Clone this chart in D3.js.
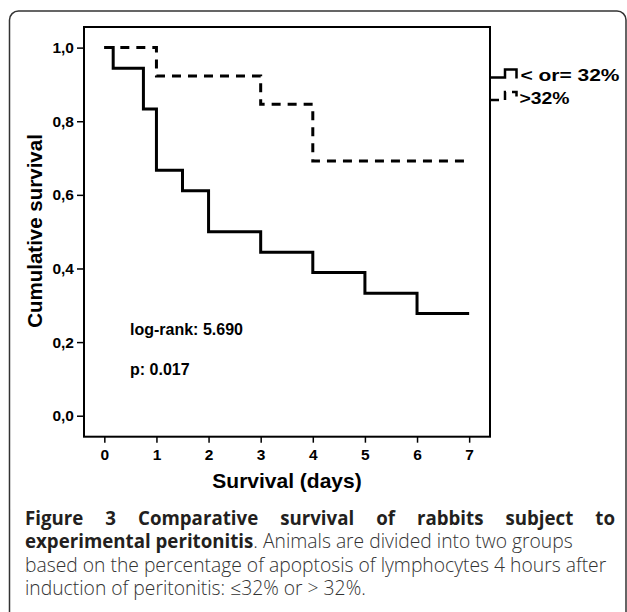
<!DOCTYPE html>
<html>
<head>
<meta charset="utf-8">
<script src="https://cdn.jsdelivr.net/npm/d3@7"></script>
<style>
body { margin: 0; background: #fff; }
svg text { font-family: "Liberation Sans", Arial, sans-serif; font-weight: bold; fill: #000; }
svg text.cap { font-family: "Open Sans", sans-serif; }
</style>
</head>
<body>
<div id="chart"></div>
<script>

// values

var solidDays = [0, 0.17, 0.75, 1, 1.5, 2, 3, 4, 5, 6, 7];
var solidSurv = [1, 0.944, 0.833, 0.667, 0.611, 0.5, 0.444, 0.389, 0.333, 0.278, 0.278];

var dashDays = [0, 1, 3, 4, 7];
var dashSurv = [1, 0.923, 0.846, 0.692, 0.692];

var xTicks = [0, 1, 2, 3, 4, 5, 6, 7];
var yTicks = [0, 0.2, 0.4, 0.6, 0.8, 1.0];

var legendLabels = ["< or= 32%", ">32%"];
var statLabels = ["log-rank: 5.690", "p: 0.017"];

var captionTitle = "Figure 3 Comparative survival of rabbits subject to";
var captionBold2 = "experimental peritonitis";
var captionRest2 = ". Animals are divided into two groups";
var captionLine3 = "based on the percentage of apoptosis of lymphocytes 4 hours after";
var captionLine4 = "induction of peritonitis: \u226432% or > 32%.";

// initial settings

var svgWidth = 627;
var svgHeight = 612;

var frame = { left: 84, right: 490, top: 27, bottom: 436.7 };

var svg = d3.select("#chart")
  .append("svg")
  .attr("width", svgWidth)
  .attr("height", svgHeight);

// outer rounded border of the figure panel
svg.append("rect")
  .attr("x", 9.5)
  .attr("y", 11)
  .attr("width", 616.5)
  .attr("height", 640)
  .attr("rx", 9)
  .attr("fill", "none")
  .attr("stroke", "#333")
  .attr("stroke-width", 1.5);

// scales

var x = d3.scaleLinear()
  .domain([-0.39, 7.4])
  .range([frame.left, frame.right]);

var y = d3.scaleLinear()
  .domain([-0.057, 1.056])
  .range([frame.bottom, frame.top]);

// axes

var left = d3.axisLeft(y)
  .tickValues(yTicks)
  .tickFormat(d => d3.format(".1f")(d).replace(".", ","))
  .tickSize(7)
  .tickPadding(3);

var bottom = d3.axisBottom(x)
  .tickValues(xTicks)
  .tickFormat(d3.format("d"))
  .tickSize(6)
  .tickPadding(6);

var yaxis = svg.append("g")
  .attr("transform", `translate(${frame.left}, 0)`)
  .call(left);

var xaxis = svg.append("g")
  .attr("transform", `translate(0, ${frame.bottom})`)
  .call(bottom);

[yaxis, xaxis].forEach(function (g) {
  g.select(".domain").remove();
  g.selectAll(".tick line").attr("stroke", "#000").attr("stroke-width", 1.5);
  g.selectAll(".tick text")
    .attr("fill", "#000")
    .style("font-size", "15.5px")
    .style("font-family", "'Liberation Sans', Arial, sans-serif")
    .style("font-weight", "bold");
});

// plot frame
svg.append("rect")
  .attr("x", frame.left)
  .attr("y", frame.top)
  .attr("width", frame.right - frame.left)
  .attr("height", frame.bottom - frame.top)
  .attr("fill", "none")
  .attr("stroke", "#000")
  .attr("stroke-width", 2);

// survival curves

var step = d3.line()
  .x(d => x(d[0]))
  .y(d => y(d[1]))
  .curve(d3.curveStepAfter);

var solidData = solidDays.map((d, i) => [d, solidSurv[i]]);
var dashData = dashDays.map((d, i) => [d, dashSurv[i]]);

svg.append("path")
  .datum(dashData)
  .attr("d", step)
  .attr("fill", "none")
  .attr("stroke", "#000")
  .attr("stroke-width", 3)
  .attr("stroke-dasharray", "9,7");

svg.append("path")
  .datum(solidData)
  .attr("d", step)
  .attr("fill", "none")
  .attr("stroke", "#000")
  .attr("stroke-width", 3);

// axis titles

svg.append("text")
  .attr("transform", "translate(41.5, 231) rotate(-90)")
  .attr("text-anchor", "middle")
  .style("font-size", "20.5px")
  .text("Cumulative survival");

svg.append("text")
  .attr("x", 287)
  .attr("y", 488)
  .attr("text-anchor", "middle")
  .style("font-size", "21px")
  .text("Survival (days)");

// stats text inside plot

svg.selectAll(".stat")
  .data(statLabels)
  .enter()
  .append("text")
  .attr("class", "stat")
  .attr("x", 130)
  .attr("y", (d, i) => 335 + i * 40)
  .style("font-size", "16px")
  .text(d => d);

// legend

var legend = svg.append("g");

legend.append("path")
  .attr("d", "M490,77.5 H505 V69.5 H516.5 V78.5")
  .attr("fill", "none")
  .attr("stroke", "#000")
  .attr("stroke-width", 2.5);

legend.append("path")
  .attr("d", "M490,100 H505 V92 H516.5 V100.5")
  .attr("fill", "none")
  .attr("stroke", "#000")
  .attr("stroke-width", 2.5)
  .attr("stroke-dasharray", "9,6");

var legendWidths = [99, 50];

legend.selectAll(".leg")
  .data(legendLabels)
  .enter()
  .append("text")
  .attr("class", "leg")
  .attr("x", (d, i) => i === 0 ? 520.5 : 519.5)
  .attr("y", (d, i) => 81 + i * 23)
  .attr("textLength", (d, i) => legendWidths[i])
  .attr("lengthAdjust", "spacingAndGlyphs")
  .style("font-size", "16px")
  .text(d => d);

// caption

var boldSize = 18.7;
var capSize = 19.3;
var capLeft = 25;
var capRight = 615;

// first line is justified word by word
var titleWords = captionTitle.split(" ");
var title = svg.append("text")
  .attr("class", "cap")
  .attr("y", 524.5)
  .style("font-size", boldSize + "px")
  .style("font-weight", "bold")
  .style("fill", "#231f20");

var spans = title.selectAll("tspan")
  .data(titleWords)
  .enter()
  .append("tspan")
  .text(d => d);

var widths = [];
spans.each(function () { widths.push(this.getComputedTextLength()); });
var gap = (capRight - capLeft - d3.sum(widths)) / (titleWords.length - 1);
var pos = capLeft;
spans.each(function (d, i) {
  d3.select(this).attr("x", pos);
  pos += widths[i] + gap;
});

var line2 = svg.append("text")
  .attr("class", "cap")
  .attr("x", capLeft)
  .attr("y", 548);

line2.append("tspan")
  .style("font-size", boldSize + "px")
  .style("font-weight", "bold")
  .style("fill", "#231f20")
  .text(captionBold2);

line2.append("tspan")
  .style("font-size", capSize + "px")
  .style("font-weight", "300")
  .style("fill", "#333")
  .text(captionRest2);

[captionLine3, captionLine4].forEach(function (t, i) {
  svg.append("text")
    .attr("class", "cap")
    .attr("x", capLeft)
    .attr("y", 571.5 + i * 23.5)
    .style("font-size", capSize + "px")
    .style("font-weight", "300")
    .style("fill", "#333")
    .text(t);
});

</script>
</body>
</html>
